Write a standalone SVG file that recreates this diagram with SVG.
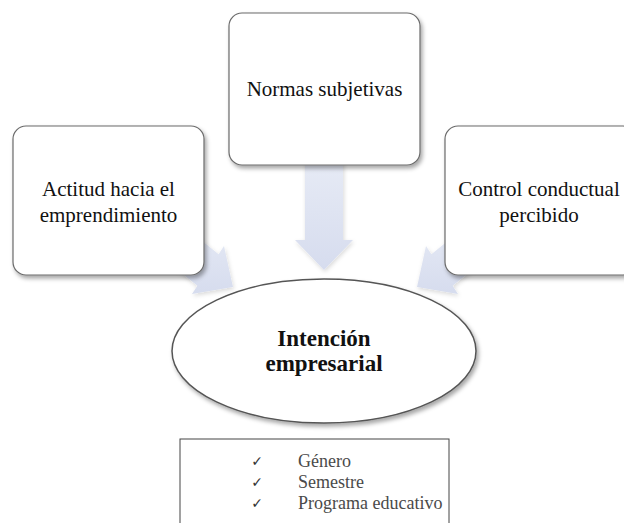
<svg xmlns="http://www.w3.org/2000/svg" width="624" height="523" viewBox="0 0 624 523">
  <defs>
    <filter id="sh" x="-20%" y="-20%" width="140%" height="140%">
      <feDropShadow dx="2" dy="3" stdDeviation="2" flood-color="#000" flood-opacity="0.35"/>
    </filter>
    <filter id="ash" x="-30%" y="-30%" width="160%" height="160%">
      <feDropShadow dx="1" dy="2" stdDeviation="2" flood-color="#000" flood-opacity="0.15"/>
    </filter>
    <linearGradient id="ag" x1="0" y1="0" x2="0" y2="1">
      <stop offset="0" stop-color="#e8ecf6"/>
      <stop offset="1" stop-color="#d6dcee"/>
    </linearGradient>
  </defs>
  <style>
    .box { fill: #ffffff; stroke: #6b6b6b; stroke-width: 1.2; filter: url(#sh); }
    .arrow { fill: url(#ag); stroke: none; filter: url(#ash); }
    .lbl { font-family: "Liberation Serif", "Times New Roman", serif; font-size: 21px; fill: #111; text-anchor: middle; }
    .bold { font-family: "Liberation Serif", "Times New Roman", serif; font-size: 23px; font-weight: bold; fill: #111; text-anchor: middle; }
    .item { font-family: "Liberation Serif", "Times New Roman", serif; font-size: 18px; fill: #4a4a4a; }
    .chk { font-family: "DejaVu Sans", sans-serif; font-size: 14px; fill: #333; text-anchor: middle; }
  </style>
  <rect width="624" height="523" fill="#ffffff"/>

  <g id="connectors">
    <polygon class="arrow" points="168.6,213.8 147.4,245.4 197.4,285.8 192,294 233,287 224,246 218.6,254.2"/>
    <polygon class="arrow" points="305,150 343,150 343,240 353,240 324,270 295,240 305,240"/>
    <polygon class="arrow" points="481.4,213.8 502.6,245.4 452.6,285.8 458,294 417,287 426,246 431.4,254.2"/>
  </g>

  <g id="node-normas">
    <rect class="box" x="229" y="13" width="191" height="152" rx="13"/>
    <text class="lbl" x="324.5" y="96">Normas subjetivas</text>
  </g>

  <g id="node-actitud">
    <rect class="box" x="13" y="126" width="191" height="149" rx="13"/>
    <text class="lbl" x="108.5" y="196">Actitud hacia el</text>
    <text class="lbl" x="108.5" y="222">emprendimiento</text>
  </g>

  <g id="node-control">
    <rect class="box" x="445" y="126" width="191" height="149" rx="13"/>
    <text class="lbl" x="539" y="196">Control conductual</text>
    <text class="lbl" x="539" y="222">percibido</text>
  </g>

  <g id="node-intencion">
    <ellipse cx="324" cy="351" rx="152" ry="72" fill="#ffffff" stroke="#555" stroke-width="1.5" filter="url(#sh)"/>
    <text class="bold" x="324" y="346">Intención</text>
    <text class="bold" x="324" y="371">empresarial</text>
  </g>

  <g id="node-variables">
    <rect x="180" y="439" width="269" height="100" fill="#ffffff" stroke="#444" stroke-width="1"/>
    <text class="chk" x="257" y="466">✓</text>
    <text class="item" x="298" y="467">Género</text>
    <text class="chk" x="257" y="487">✓</text>
    <text class="item" x="298" y="488">Semestre</text>
    <text class="chk" x="257" y="508">✓</text>
    <text class="item" x="298" y="509">Programa educativo</text>
  </g>
</svg>
